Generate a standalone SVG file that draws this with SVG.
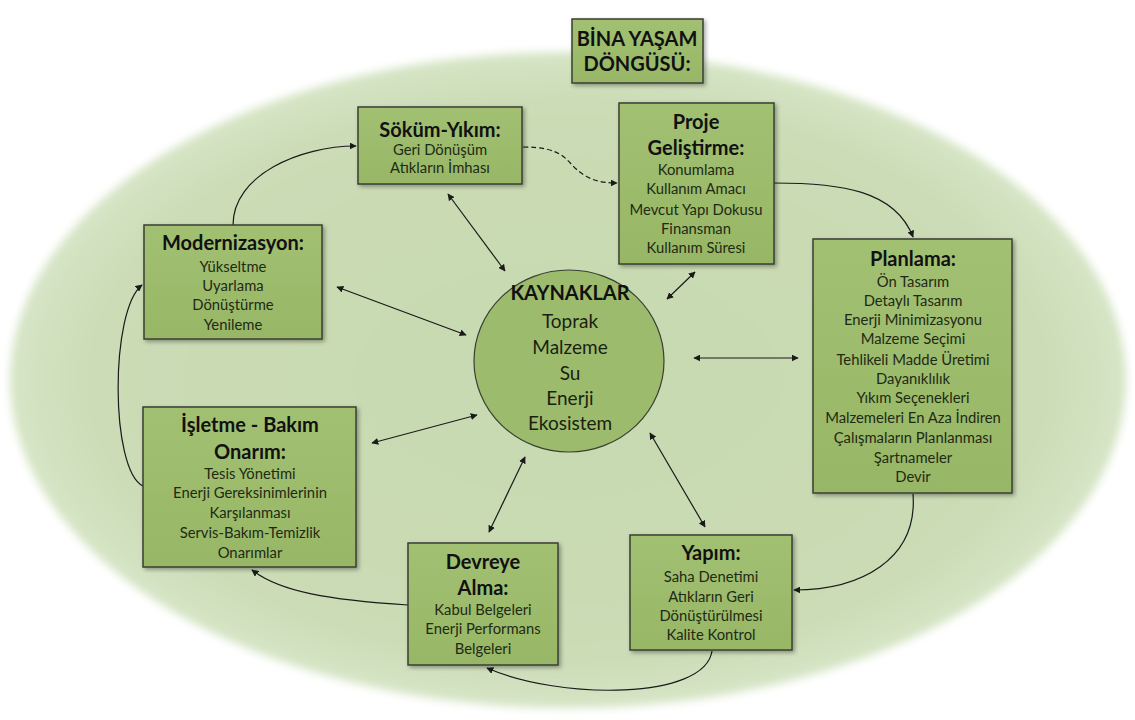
<svg xmlns="http://www.w3.org/2000/svg" width="1135" height="720" viewBox="0 0 1135 720">
<style>
.box{fill:url(#boxg);stroke:#3a3f33;stroke-width:1.5;filter:url(#sh)}
.t{font-family:Lato,"Open Sans",sans-serif;font-weight:bold;font-size:20px;fill:#111;text-anchor:middle}
.b{font-family:Lato,"Open Sans",sans-serif;font-size:14.8px;fill:#1f2a14;text-anchor:middle}
.c{font-family:Lato,"Open Sans",sans-serif;font-size:19px;fill:#1a1f12;text-anchor:middle}
.ln{fill:none;stroke:#1a1a1a;stroke-width:1.2}
.a1{marker-end:url(#ah)}
.a2{marker-start:url(#ahs);marker-end:url(#ah)}
</style>
<defs>
<linearGradient id="boxg" x1="0" y1="0" x2="0" y2="1">
<stop offset="0" stop-color="#a2c072"/>
<stop offset="1" stop-color="#97b766"/>
</linearGradient>
<radialGradient id="bg" cx="0.5" cy="0.5" r="0.5">
<stop offset="0" stop-color="#c7d9b0"/>
<stop offset="0.85" stop-color="#cbdcb6"/>
<stop offset="1" stop-color="#d6e5c6"/>
</radialGradient>
<filter id="sh" x="-10%" y="-10%" width="125%" height="125%">
<feDropShadow dx="2" dy="2" stdDeviation="2" flood-color="#000" flood-opacity="0.35"/>
</filter>
<filter id="soft" x="-5%" y="-5%" width="110%" height="110%">
<feGaussianBlur stdDeviation="4"/>
</filter>
<marker id="ah" viewBox="0 0 10 10" refX="9" refY="5" markerWidth="7" markerHeight="7" orient="auto" markerUnits="userSpaceOnUse">
<path d="M0,0 L10,5 L0,10 z" fill="#1a1a1a"/>
</marker>
<marker id="ahs" viewBox="0 0 10 10" refX="1" refY="5" markerWidth="7" markerHeight="7" orient="auto" markerUnits="userSpaceOnUse">
<path d="M10,0 L0,5 L10,10 z" fill="#1a1a1a"/>
</marker>
</defs>
<rect width="1135" height="720" fill="#ffffff"/>
<ellipse cx="568" cy="380" rx="558" ry="328" fill="url(#bg)" filter="url(#soft)"/>

<g id="connectors">
<path class="ln a1" d="M523,147 C560,147 565,158 575,168 C588,180 600,183 617,183" stroke-dasharray="5 3"/>
<path class="ln a1" d="M774,183 C840,183 895,190 913,237"/>
<path class="ln a1" d="M913,494 C918,560 860,590 794,590"/>
<path class="ln a1" d="M712,651 C705,700 560,700 487,668"/>
<path class="ln a1" d="M408,605 C330,600 280,592 252,570"/>
<path class="ln a1" d="M143,486 C110,470 110,310 142,285"/>
<path class="ln a1" d="M233,225 C233,175 300,146 356,146"/>
<line class="ln a2" x1="448" y1="194" x2="505" y2="271"/>
<line class="ln a2" x1="695" y1="272" x2="667" y2="299"/>
<line class="ln a2" x1="337" y1="287" x2="466" y2="335"/>
<line class="ln a2" x1="694" y1="358" x2="798" y2="358"/>
<line class="ln a2" x1="372" y1="443" x2="477" y2="415"/>
<line class="ln a2" x1="489" y1="532" x2="525" y2="457"/>
<line class="ln a2" x1="650" y1="433" x2="705" y2="527"/>
</g>

<g id="title">
<rect class="box" x="572" y="19" width="131" height="64"/>
<text class="t" x="637" y="46" font-size="16">BİNA YAŞAM</text>
<text class="t" x="637" y="71" font-size="16">DÖNGÜSÜ:</text>
</g>

<g id="sokum">
<rect class="box" x="358" y="107" width="164" height="77"/>
<text class="t" x="440" y="137">Söküm-Yıkım:</text>
<text class="b" x="440" y="155">Geri Dönüşüm</text>
<text class="b" x="440" y="173">Atıkların İmhası</text>
</g>

<g id="proje">
<rect class="box" x="619" y="103" width="155" height="161"/>
<text class="t" x="696" y="129">Proje</text>
<text class="t" x="696" y="155">Geliştirme:</text>
<text class="b" x="696" y="175">Konumlama</text>
<text class="b" x="696" y="194">Kullanım Amacı</text>
<text class="b" x="696" y="215">Mevcut Yapı Dokusu</text>
<text class="b" x="696" y="234">Finansman</text>
<text class="b" x="696" y="253">Kullanım Süresi</text>
</g>

<g id="modernizasyon">
<rect class="box" x="144" y="225" width="178" height="114"/>
<text class="t" x="233" y="250">Modernizasyon:</text>
<text class="b" x="233" y="272">Yükseltme</text>
<text class="b" x="233" y="291">Uyarlama</text>
<text class="b" x="233" y="310">Dönüştürme</text>
<text class="b" x="233" y="330">Yenileme</text>
</g>

<g id="planlama">
<rect class="box" x="813" y="239" width="199" height="254"/>
<text class="t" x="913" y="266">Planlama:</text>
<text class="b" x="913" y="287">Ön Tasarım</text>
<text class="b" x="913" y="306">Detaylı Tasarım</text>
<text class="b" x="913" y="325">Enerji Minimizasyonu</text>
<text class="b" x="913" y="344">Malzeme Seçimi</text>
<text class="b" x="913" y="365">Tehlikeli Madde Üretimi</text>
<text class="b" x="913" y="384">Dayanıklılık</text>
<text class="b" x="913" y="403">Yıkım Seçenekleri</text>
<text class="b" x="913" y="423">Malzemeleri En Aza İndiren</text>
<text class="b" x="913" y="443">Çalışmaların Planlanması</text>
<text class="b" x="913" y="463">Şartnameler</text>
<text class="b" x="913" y="482">Devir</text>
</g>

<g id="kaynaklar">
<ellipse cx="569" cy="361" rx="95" ry="91" fill="#9dbb6c" stroke="#3a3f33" stroke-width="1.2"/>
<text class="t" x="570" y="300" font-size="18.5">KAYNAKLAR</text>
<text class="c" x="570" y="328">Toprak</text>
<text class="c" x="570" y="354">Malzeme</text>
<text class="c" x="570" y="380">Su</text>
<text class="c" x="570" y="405">Enerji</text>
<text class="c" x="570" y="430">Ekosistem</text>
</g>

<g id="isletme">
<rect class="box" x="143" y="407" width="213" height="160"/>
<text class="t" x="250" y="432">İşletme - Bakım</text>
<text class="t" x="250" y="459">Onarım:</text>
<text class="b" x="250" y="479">Tesis Yönetimi</text>
<text class="b" x="250" y="498">Enerji Gereksinimlerinin</text>
<text class="b" x="250" y="518">Karşılanması</text>
<text class="b" x="250" y="538">Servis-Bakım-Temizlik</text>
<text class="b" x="250" y="558">Onarımlar</text>
</g>

<g id="devreye">
<rect class="box" x="408" y="543" width="150" height="122"/>
<text class="t" x="483" y="569">Devreye</text>
<text class="t" x="483" y="595">Alma:</text>
<text class="b" x="483" y="615">Kabul Belgeleri</text>
<text class="b" x="483" y="634">Enerji Performans</text>
<text class="b" x="483" y="654">Belgeleri</text>
</g>

<g id="yapim">
<rect class="box" x="630" y="535" width="162" height="115"/>
<text class="t" x="711" y="560">Yapım:</text>
<text class="b" x="711" y="582">Saha Denetimi</text>
<text class="b" x="711" y="602">Atıkların Geri</text>
<text class="b" x="711" y="621">Dönüştürülmesi</text>
<text class="b" x="711" y="640">Kalite Kontrol</text>
</g>
</svg>
